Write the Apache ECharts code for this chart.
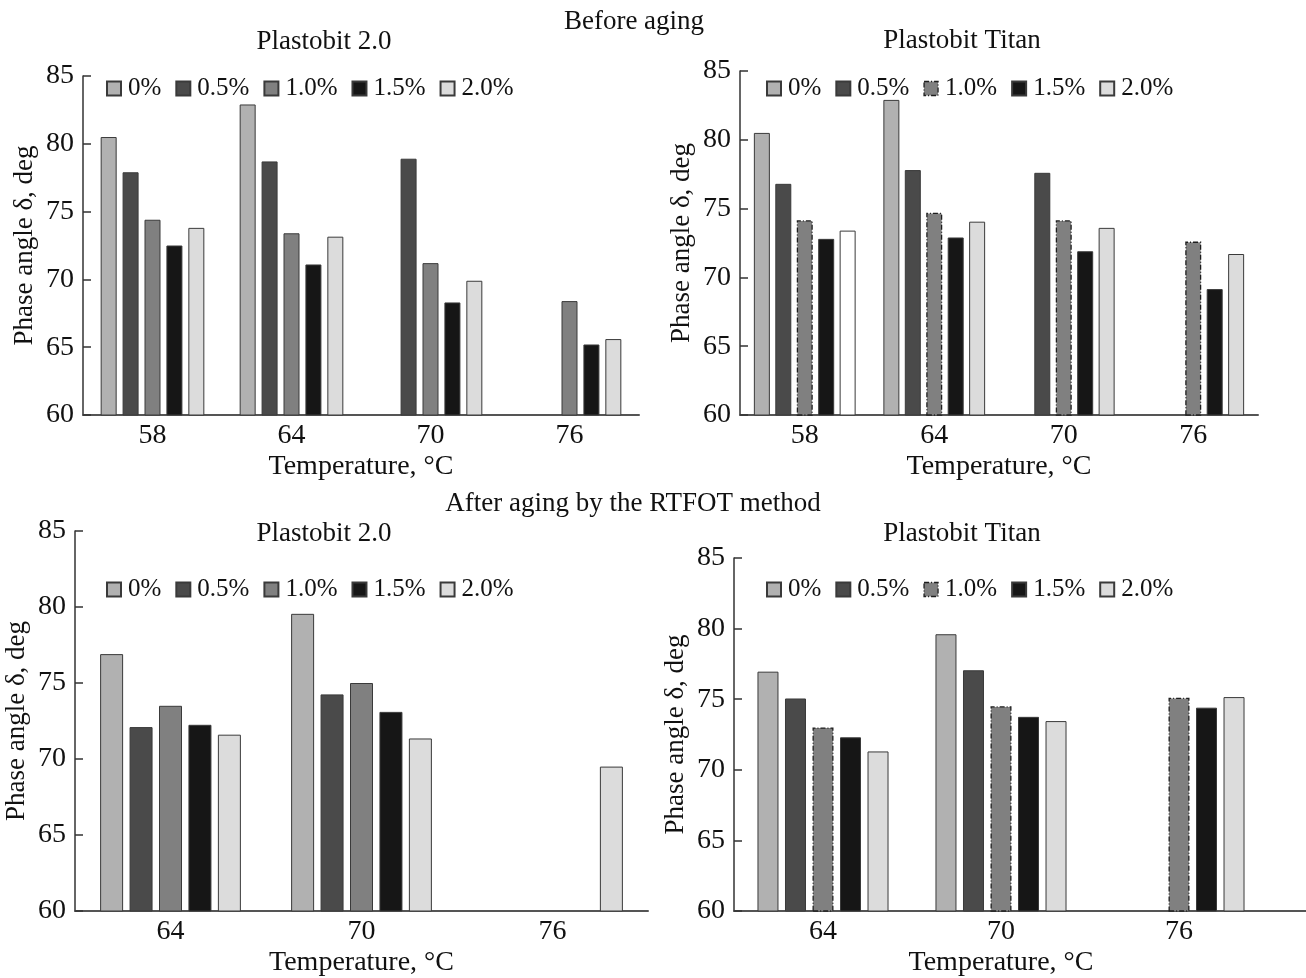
<!DOCTYPE html>
<html>
<head>
<meta charset="utf-8">
<script src="https://cdn.jsdelivr.net/npm/echarts@6/dist/echarts.min.js"></script>
<style>
  html, body { margin: 0; padding: 0; background: #fff; }
  #containerBar { width: 1306px; height: 978px; }
</style>
</head>
<body>
<div id="containerBar"></div>
<script>
// categories (temperature, °C)
var tempsBefore = ['58', '64', '70', '76'];
var tempsAfter = ['64', '70', '76'];
var seriesNames = ['0%', '0.5%', '1.0%', '1.5%', '2.0%'];
var yTicks = [60, 65, 70, 75, 80, 85];

// Before aging, Plastobit 2.0
var b2_0 = [80.5, 82.9, null, null];
var b2_05 = [77.9, 78.7, 78.9, null];
var b2_10 = [74.4, 73.4, 71.2, 68.4];
var b2_15 = [72.5, 71.1, 68.3, 65.2];
var b2_20 = [73.8, 73.15, 69.9, 65.6];

// Before aging, Plastobit Titan
var bT_0 = [80.5, 82.9, null, null];
var bT_05 = [76.8, 77.8, 77.6, null];
var bT_10 = [74.15, 74.7, 74.15, 72.6];
var bT_15 = [72.8, 72.9, 71.9, 69.15];
var bT_20 = [73.4, 74.05, 73.6, 71.7];

// After RTFOT, Plastobit 2.0
var a2_0 = [76.9, 79.55, null];
var a2_05 = [72.1, 74.25, null];
var a2_10 = [73.5, 75.0, null];
var a2_15 = [72.25, 73.1, null];
var a2_20 = [71.6, 71.35, 69.5];

// After RTFOT, Plastobit Titan
var aT_0 = [76.95, 79.6, null];
var aT_05 = [75.05, 77.05, null];
var aT_10 = [73.0, 74.5, 75.1];
var aT_15 = [72.3, 73.75, 74.4];
var aT_20 = [71.3, 73.45, 75.15];

var FONT = "'Liberation Serif', 'Times New Roman', serif";
var barColors = ['#b1b1b1', '#4a4a4a', '#808080', '#161616', '#dcdcdc'];
var dashDot = [5, 2, 1, 2];

// grid boxes (px)
var grids = [
    {left: 83, top: 76, width: 556, height: 339},
    {left: 740, top: 71, width: 518, height: 344},
    {left: 75, top: 531, width: 573, height: 381},
    {left: 734, top: 558, width: 534, height: 354}
];

var domBar = document.getElementById("containerBar");
var myChart = echarts.init(domBar, null, {renderer: 'canvas'});

function makeSeries(gi, lists, dashed, barWidth, barGap) {
    var out = [];
    for (var i = 0; i < lists.length; i++) {
        out.push({
            name: seriesNames[i],
            type: 'bar',
            xAxisIndex: gi,
            yAxisIndex: gi,
            barWidth: barWidth,
            barGap: barGap,
            data: lists[i].slice(),
            itemStyle: {
                color: barColors[i],
                borderColor: (dashed && i == 2) ? '#1e1e1e' : '#3a3a3a',
                borderWidth: (dashed && i == 2) ? 1.3 : 1,
                borderType: (dashed && i == 2) ? dashDot : 'solid'
            }
        });
    }
    return out;
}

function makeLegend(left, top, dashed) {
    var items = seriesNames.map(function (n, i) {
        var it = {name: n};
        if (dashed && i == 2) {
            it.itemStyle = {borderType: dashDot, borderColor: '#1e1e1e', borderWidth: 1.3};
        }
        return it;
    });
    return {
        left: left,
        top: top,
        data: items,
        icon: 'rect',
        itemWidth: 14,
        itemHeight: 14,
        itemGap: 14,
        selectedMode: false,
        textStyle: {fontFamily: FONT, fontSize: 25, color: '#111', padding: [0, 0, 0, 2]}
    };
}

var xAxes = [], yAxes = [];
for (var g = 0; g < 4; g++) {
    xAxes.push({
        type: 'category',
        gridIndex: g,
        data: g < 2 ? tempsBefore : tempsAfter,
        name: 'Temperature, °C',
        nameLocation: 'middle',
        nameGap: 38,
        nameTextStyle: {fontFamily: FONT, fontSize: 28, color: '#111'},
        axisLine: {lineStyle: {color: '#555', width: 2}},
        axisTick: {show: false},
        axisLabel: {fontFamily: FONT, fontSize: 28, color: '#111', margin: 7}
    });
    yAxes.push({
        type: 'value',
        gridIndex: g,
        min: yTicks[0],
        max: yTicks[yTicks.length - 1],
        interval: 5,
        name: 'Phase angle δ, deg',
        nameLocation: 'middle',
        nameGap: 45,
        nameTextStyle: {fontFamily: FONT, fontSize: 27, color: '#111'},
        axisLine: {show: true, lineStyle: {color: '#333', width: 1.5}},
        axisTick: {show: true, inside: true, length: 8, lineStyle: {color: '#333', width: 1.5}},
        splitLine: {show: false},
        axisLabel: {fontFamily: FONT, fontSize: 28, color: '#111', margin: 9}
    });
}

var series = [].concat(
    makeSeries(0, [b2_0, b2_05, b2_10, b2_15, b2_20], false, 16, '37%'),
    makeSeries(1, [bT_0, bT_05, bT_10, bT_15, bT_20], true, 16, '34%'),
    makeSeries(2, [a2_0, a2_05, a2_10, a2_15, a2_20], false, 23, '28%'),
    makeSeries(3, [aT_0, aT_05, aT_10, aT_15, aT_20], true, 21, '31%')
);
// the 2.0% bar at 58 °C (Titan, before aging) is white in the original
series[9].data[0] = {value: bT_20[0], itemStyle: {color: '#ffffff'}};

function label(text, x, y) {
    return {
        type: 'text',
        x: x,
        y: y,
        style: {text: text, font: '27px ' + FONT, fill: '#111', textAlign: 'center', textVerticalAlign: 'middle'}
    };
}

var g4 = grids[3];
var optionBar = {
    backgroundColor: '#fff',
    animation: false,
    grid: grids,
    xAxis: xAxes,
    yAxis: yAxes,
    legend: [
        makeLegend(101, 71, false),
        makeLegend(761, 71, true),
        makeLegend(101, 572, false),
        makeLegend(761, 572, true)
    ],
    graphic: [
        label('Before aging', 634, 22),
        label('Plastobit 2.0', 324, 42),
        label('Plastobit Titan', 962, 41),
        label('After aging by the RTFOT method', 633, 504),
        label('Plastobit 2.0', 324, 534),
        label('Plastobit Titan', 962, 534),
        // bottom-right axis line runs on to the page edge
        {
            type: 'line',
            shape: {x1: g4.left + g4.width - 1, y1: g4.top + g4.height - 1, x2: 1306, y2: g4.top + g4.height - 1},
            style: {stroke: '#555', lineWidth: 2}
        }
    ],
    series: series
};

if (optionBar && typeof optionBar === "object") {
    myChart.setOption(optionBar, true);
}
</script>
</body>
</html>
